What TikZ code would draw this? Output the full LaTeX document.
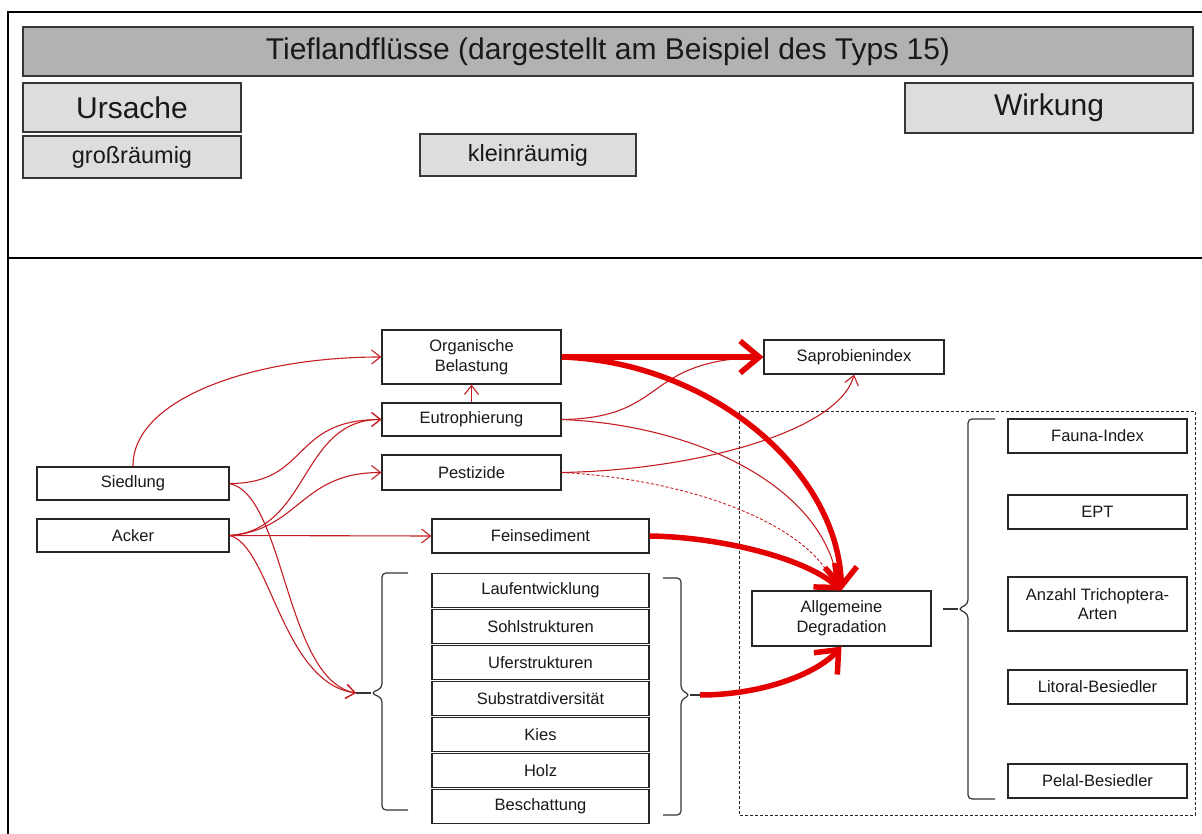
\documentclass[tikz,border=0pt]{standalone}
\usepackage{fontspec}
\setmainfont{Liberation Sans}
\usetikzlibrary{arrows.meta}
\definecolor{barfill}{RGB}{178,178,178}
\definecolor{headfill}{RGB}{221,221,221}
\definecolor{edge}{RGB}{55,55,55}
\definecolor{thinred}{RGB}{196,30,36}
\definecolor{thickred}{RGB}{228,0,0}
\definecolor{ink}{RGB}{25,25,25}

\begin{document}
\begin{tikzpicture}[x=1pt,y=-1pt,
  headbox/.style={draw=edge, line width=1.4pt, fill=headfill, inner sep=0pt, text=ink},
  box/.style={draw=black!85, line width=1.2pt, fill=white, inner sep=0pt, align=center,
    text=ink, font=\fontsize{16.5}{19.8}\selectfont},
  rowbox/.style={box, minimum width=217pt, minimum height=33.5pt},
  sidebox/.style={box, minimum width=179pt, minimum height=34pt},
  bracket/.style={draw=black!80, line width=1.2pt, rounded corners=4pt},
  thinarrow/.style={draw=thinred, line width=1.1pt, -{Straight Barb[length=9pt,width=14pt]}},
  dasharrow/.style={draw=thinred, line width=0.9pt, dash pattern=on 3pt off 2pt},
  thickarrow/.style={draw=thickred, line width=5.5pt, -{Straight Barb[length=19pt,width=32pt]}}
]
\useasboundingbox (0,0) rectangle (1202,834);

% frame and separator
\draw[line width=2pt] (8,834) -- (8,12) -- (1202,12);
\draw[line width=1.2pt] (8,258) -- (1202,258);

% heading bars
\node[headbox, fill=barfill, minimum width=1170pt, minimum height=49pt,
  font=\fontsize{30}{36}\selectfont] (title) at (608,51.5)
  {Tieflandflüsse (dargestellt am Beispiel des Typs 15)};
\node[headbox, minimum width=218pt, minimum height=49pt,
  font=\fontsize{30}{36}\selectfont] (ursache) at (132,107.5) {Ursache};
\node[headbox, minimum width=288pt, minimum height=50pt,
  font=\fontsize{30}{36}\selectfont] (wirkung) at (1049,108) {Wirkung};
\node[headbox, minimum width=218pt, minimum height=42pt,
  font=\fontsize{23.5}{28}\selectfont] (gross) at (132,157) {großräumig};
\node[headbox, minimum width=216pt, minimum height=42pt,
  font=\fontsize{23.5}{28}\selectfont] (klein) at (528,155) {kleinräumig};

% causes
\node[box, minimum width=192pt, minimum height=33pt] (sied) at (133,483.5) {Siedlung};
\node[box, minimum width=192pt, minimum height=33pt] (acker) at (133,535.5) {Acker};

% intermediate factors
\node[box, minimum width=179pt, minimum height=54pt] (organ) at (471.5,357) {Organische\\Belastung};
\node[box, minimum width=179pt, minimum height=33pt] (eutro) at (471.5,419.5) {Eutrophierung};
\node[box, minimum width=179pt, minimum height=35pt] (pest) at (471.5,472.5) {Pestizide};
\node[box, minimum width=217pt, minimum height=34pt] (fein) at (540.5,536) {Feinsediment};

% structural factors
\node[rowbox] (lauf) at (540.5,590.5) {Laufentwicklung};
\node[rowbox] (sohl) at (540.5,626.5) {Sohlstrukturen};
\node[rowbox] (ufer) at (540.5,662.5) {Uferstrukturen};
\node[rowbox] (subst) at (540.5,698.5) {Substratdiversität};
\node[rowbox] (kies) at (540.5,734.5) {Kies};
\node[rowbox] (holz) at (540.5,770.5) {Holz};
\node[rowbox] (besch) at (540.5,806.5) {Beschattung};

% effects
\node[box, minimum width=180pt, minimum height=34pt] (sapro) at (854,357) {Saprobienindex};
\draw[black!85, line width=1pt, dash pattern=on 3pt off 2pt] (739,411) rectangle (1195,815);
\node[box, minimum width=179pt, minimum height=55pt] (degr) at (841.5,618.5) {Allgemeine\\Degradation};
\node[sidebox] (fauna) at (1097.5,436) {Fauna-Index};
\node[sidebox] (ept) at (1097.5,512) {EPT};
\node[sidebox, minimum height=54pt] (anzahl) at (1097.5,604) {Anzahl Trichoptera-\\Arten};
\node[sidebox] (litoral) at (1097.5,687) {Litoral-Besiedler};
\node[sidebox] (pelal) at (1097.5,781) {Pelal-Besiedler};

% brackets
\coordinate (lbtip) at (371,693);
\coordinate (lbin) at (356,693);
\draw[bracket] (408,573) -- (382,573) -- (382,688) -- (lbtip) -- (382,698) -- (382,810) -- (408,810);
\draw[black!80, line width=1.2pt] (lbin) -- (lbtip);

\coordinate (rbtip) at (690,695);
\coordinate (rbout) at (700,695);
\draw[bracket] (663,578) -- (681,578) -- (681,690) -- (rbtip) -- (681,700) -- (681,815) -- (663,815);
\draw[black!80, line width=1.2pt] (rbtip) -- (rbout);

\coordinate (dbtip) at (958,609);
\coordinate (dbin) at (943,609);
\draw[bracket] (995,419) -- (968,419) -- (968,604) -- (dbtip) -- (968,614) -- (968,799) -- (995,799);
\draw[black!80, line width=1.2pt] (dbin) -- (dbtip);

% thin influences
\draw[thinarrow] (sied.north) .. controls (132,400) and (250,357) .. (organ.west);
\draw[thinarrow] (sied.east) .. controls (310,483.5) and (290,419.5) .. (eutro.west);
\draw[thinarrow] (acker.east) .. controls (310,530) and (300,419.5) .. (eutro.west);
\draw[thinarrow] (acker.east) .. controls (300,530) and (300,472.5) .. (pest.west);
\draw[thinarrow] (acker.east) -- (fein.west);
\draw[thinarrow] (sied.east) .. controls (285,495) and (285,680) .. (lbin);
\draw[thinarrow] (acker.east) .. controls (270,545) and (282,683) .. (lbin);
\draw[thinarrow] (eutro.north) -- (organ.south);
\draw[thinarrow] (eutro.east) .. controls (670,418) and (640,360) .. (sapro.west);
\draw[thinarrow] (eutro.east) .. controls (700,425) and (830,490) .. ([xshift=-3pt]degr.north);
\draw[thinarrow] (pest.east) .. controls (700,470) and (840,430) .. (sapro.south);
\draw[dasharrow] (pest.east) .. controls (700,480) and (820,530) .. ([xshift=-6pt]degr.north);

% strong influences
\draw[thickarrow] (organ.east) -- (sapro.west);
\draw[thickarrow] (organ.east) .. controls (710,362) and (838,470) .. (degr.north);
\draw[thickarrow] (fein.east) .. controls (720,537) and (805,558) .. (degr.north);
\draw[thickarrow] (rbout) .. controls (760,695) and (815,675) .. (degr.south);
\end{tikzpicture}
\end{document}
